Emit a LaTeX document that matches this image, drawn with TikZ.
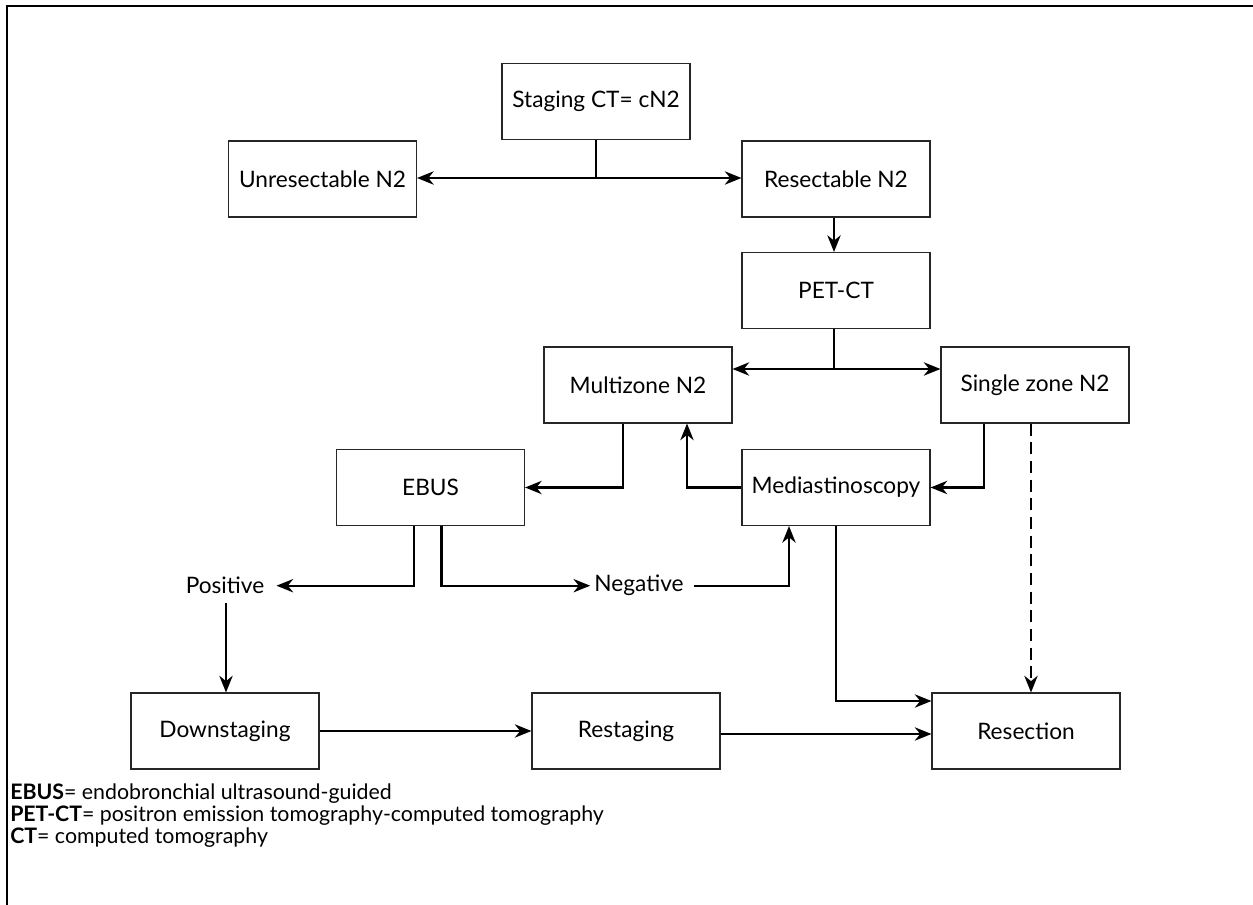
\documentclass[tikz,border=0pt]{standalone}
\usepackage{fontspec}
\setmainfont{Lato}
\usetikzlibrary{arrows.meta,calc}
\begin{document}
\begin{tikzpicture}[x=0.75pt,y=-0.75pt,
  box/.style={draw=black!85,line width=0.8pt,minimum width=141pt,minimum height=57pt,inner sep=0pt,font=\fontsize{17}{20}\selectfont},
  lbl/.style={inner sep=0pt,font=\fontsize{17}{20}\selectfont},
  conn/.style={line width=1.6pt},
  arr/.style={conn,-{Stealth[length=12.5pt,width=10pt,inset=4pt]}},
  leg/.style={anchor=west,inner sep=0pt,font=\fontsize{16}{19}\selectfont}]
\useasboundingbox (0,0) rectangle (1253,905);
\draw[line width=1.5pt] (7,905) -- (7,6) -- (1253,6);
% nodes
\node[box] (staging) at (596,101.5) {Staging CT= cN2};
\node[box] (unres) at (322.5,179) {Unresectable N2};
\node[box] (res) at (836,179) {Resectable N2};
\node[box] (pet) at (836,290.5) {PET-CT};
\node[box] (multi) at (638,385) {Multizone N2};
\node[box] (single) at (1035,385) {Single zone N2};
\node[box] (ebus) at (430.5,487.5) {EBUS};
\node[box] (medi) at (836,487.5) {Mediastinoscopy};
\node[box] (down) at (225,731) {Downstaging};
\node[box] (rest) at (626,731) {Restaging};
\node[box] (resec) at (1026,731) {Resection};
\node[lbl] (pos) at (225,585.7) {Positive};
\node[lbl] (neg) at (639,585.7) {Negative};
% helper coordinates
\coordinate (j1) at (staging.south |- 0,178);
\coordinate (j2) at ($(pet.south)+(-2,0)$);
\coordinate (j3) at (j2 |- 0,369);
\coordinate (d1) at ($(single.south)+(-4,0)$);
\coordinate (p1) at ($(pos.south)+(1,9)$);
\coordinate (m1) at ($(resec.west)+(0,-30)$);
% connectors
\draw[conn] (staging.south) -- (j1);
\draw[arr] (j1) -- (unres.east |- j1);
\draw[arr] (j1) -- (res.west |- j1);
\draw[arr] ($(res.south)+(-2,0)$) -- ($(pet.north)+(-2,0)$);
\draw[conn] (j2) -- (j3);
\draw[arr] (j3) -- (multi.east |- j3);
\draw[arr] (j3) -- (single.west |- j3);
\draw[arr] ($(multi.south)+(-15,0)$) |- (ebus.east);
\draw[arr] (medi.west) -| ($(multi.south)+(49,0)$);
\draw[arr] ($(single.south)+(-51,0)$) |- (medi.east);
\draw[arr,dash pattern=on 9pt off 5pt] (d1) -- (d1 |- resec.north);
\draw[arr] ($(ebus.south)+(-16.5,0)$) |- ($(pos.east)+(12,0)$);
\draw[arr] ($(ebus.south)+(11,0)$) |- ($(neg.west)+(-4,0)$);
\draw[arr] ($(neg.east)+(10,0)$) -| ($(medi.south)+(-47,0)$);
\draw[arr] (p1) -- (p1 |- down.north);
\draw[arr] (medi.south) |- (m1);
\draw[arr] (down.east) -- (rest.west);
\draw[arr] ($(rest.east)+(0,3)$) -- ($(resec.west)+(0,3)$);
% legend
\node[leg] (l1) at (10,794) {\textbf{EBUS}= endobronchial ultrasound-guided};
\node[leg] (l2) at (10,816) {\textbf{PET-CT}= positron emission tomography-computed tomography};
\node[leg] (l3) at (10,838) {\textbf{CT}= computed tomography};
\end{tikzpicture}
\end{document}
